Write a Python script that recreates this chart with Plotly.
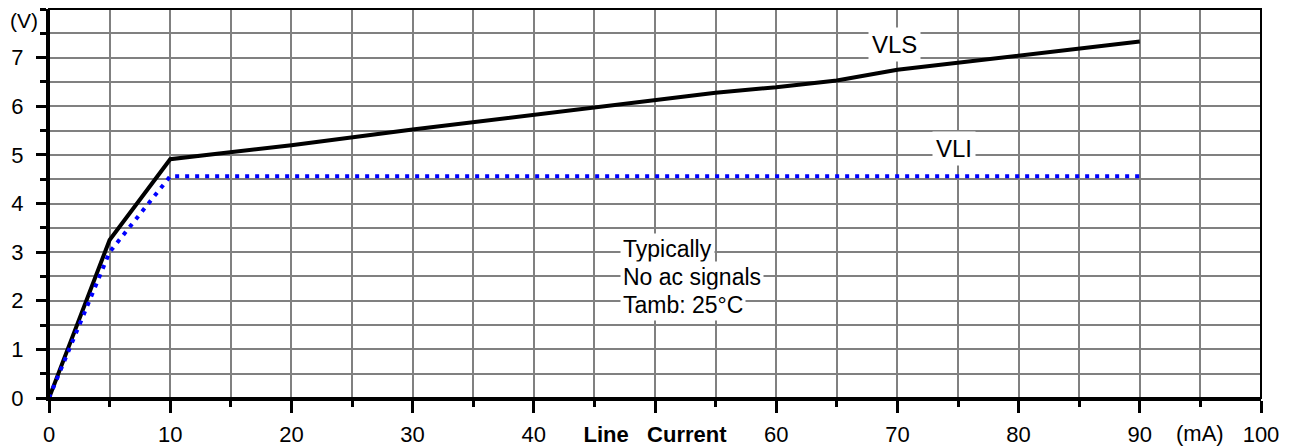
import plotly.graph_objects as go

# line current (mA) and voltages (V)
current_vls = [0, 5, 10, 20, 30, 40, 50, 55, 60, 65, 70, 80, 90]
vls = [0, 3.25, 4.91, 5.20, 5.52, 5.83, 6.12, 6.28, 6.39, 6.53, 6.75, 7.04, 7.33]

current_vli = [0, 5, 10, 90]
vli = [0, 3.0, 4.56, 4.56]

x_ticks = [0, 10, 20, 30, 40, 50, 60, 70, 80, 90, 100]
x_labels = ["0", "10", "20", "30", "40", "<b>Line\u00a0\u00a0 Current</b>", "60", "70", "80", "90", "100"]
y_ticks = [0, 1, 2, 3, 4, 5, 6, 7]

font = "Liberation Sans, Arial, sans-serif"

fig = go.Figure()
fig.add_trace(go.Scatter(x=current_vls, y=vls, mode="lines", name="VLS",
                         line=dict(color="black", width=4)))
fig.add_trace(go.Scatter(x=current_vli, y=vli, mode="lines", name="VLI",
                         line=dict(color="#0000ff", width=4, dash="4px,6px")))

# page body has an 8px margin, so the figure is sized to fit inside it
fig.update_layout(
    width=1291, height=440,
    margin=dict(l=41, r=38, t=1, b=50),
    paper_bgcolor="white", plot_bgcolor="white",
    showlegend=False,
    font=dict(family=font, size=22, color="black"),
)

fig.update_xaxes(
    range=[0, 100], tickvals=x_ticks, ticktext=x_labels, automargin=False,
    showgrid=True, gridcolor="#808080", gridwidth=2,
    ticks="outside", ticklen=12, tickwidth=3, tickcolor="black",
    showline=True, linecolor="black", linewidth=3,
    minor=dict(dtick=5, showgrid=True, gridcolor="#808080", gridwidth=2,
               ticks="outside", ticklen=6, tickwidth=3, tickcolor="black"),
    zeroline=False, ticklabelstandoff=3,
)
fig.update_yaxes(
    range=[0, 8], tickvals=y_ticks, automargin=False,
    showgrid=True, gridcolor="#808080", gridwidth=2,
    ticks="outside", ticklen=10, tickwidth=3, tickcolor="black",
    showline=True, linecolor="black", linewidth=3,
    minor=dict(dtick=0.5, showgrid=True, gridcolor="#808080", gridwidth=2,
               ticks="outside", ticklen=6, tickwidth=3, tickcolor="black"),
    zeroline=False, ticklabelstandoff=8,
)

# thin frame on top and right
fig.add_shape(type="rect", xref="paper", yref="paper", x0=0, x1=1, y0=0, y1=1,
              line=dict(color="black", width=2), layer="above")

# labels
fig.add_annotation(x=69.8, y=7.26, text="VLS", showarrow=False,
                   bgcolor="white", borderpad=3, font=dict(size=24))
fig.add_annotation(x=74.7, y=5.14, text="VLI", showarrow=False,
                   bgcolor="white", borderpad=3, font=dict(size=24))
for txt, yv in [("Typically", 3.07), ("No ac signals", 2.49), ("Tamb: 25°C", 1.92)]:
    fig.add_annotation(x=47.1, y=yv, text=txt, showarrow=False, xanchor="left",
                       bgcolor="white", borderpad=2, font=dict(size=23))

fig.add_annotation(x=95, y=0, yref="paper", yshift=-35, yanchor="middle", text="(mA)",
                   showarrow=False, font=dict(size=22))
fig.add_annotation(x=0, xref="paper", xanchor="right", xshift=-10, y=1, yref="paper",
                   yanchor="top", yshift=1, text="(V)", borderpad=0,
                   showarrow=False, font=dict(size=21))

fig.write_html("out.html")
